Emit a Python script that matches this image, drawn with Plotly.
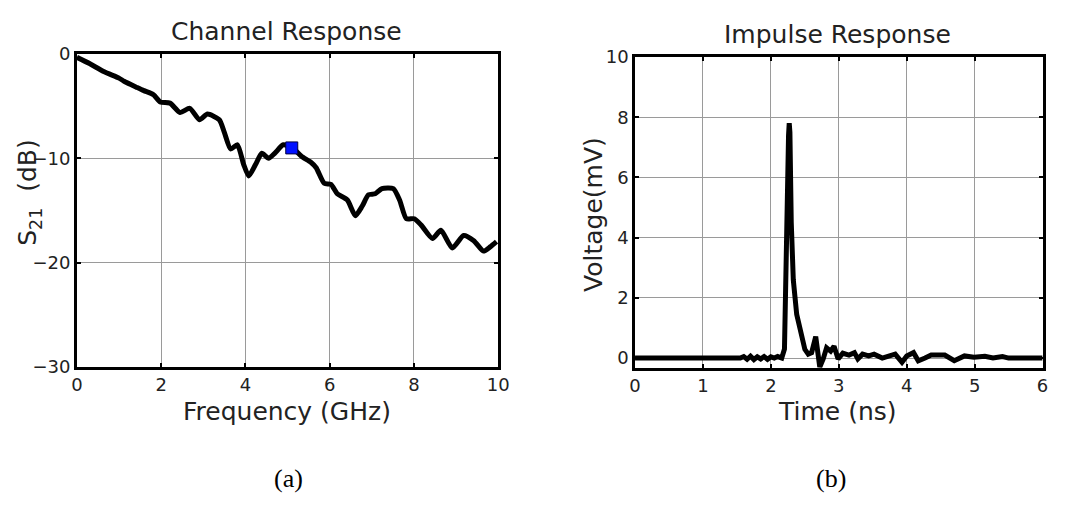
import plotly.graph_objects as go

# ---- data: Channel response ----
freq_ghz = [0.0, 0.3, 0.65, 1.0, 1.12, 1.43, 1.59, 1.82, 1.98, 2.21, 2.45, 2.68, 2.91, 3.1, 3.38,
            3.5, 3.65, 3.81, 3.96, 4.08, 4.24, 4.39, 4.55, 4.7, 4.9, 5.12, 5.33, 5.56, 5.68,
            5.87, 6.03, 6.18, 6.42, 6.61, 6.77, 6.92, 7.08, 7.24, 7.51, 7.66, 7.82, 8.01,
            8.17, 8.44, 8.64, 8.91, 9.18, 9.42, 9.65, 9.81, 9.96]
s21_db = [-0.3, -0.9, -1.7, -2.3, -2.6, -3.2, -3.5, -3.9, -4.6, -4.7, -5.6, -5.2, -6.3, -5.75, -6.3,
          -7.5, -9.1, -8.7, -10.6, -11.7, -10.6, -9.5, -10.0, -9.5, -8.7, -9.0, -9.8, -10.4, -10.9,
          -12.4, -12.5, -13.4, -14.0, -15.5, -14.6, -13.5, -13.4, -12.9, -12.9, -14.0, -15.8, -15.8,
          -16.4, -17.7, -16.9, -18.6, -17.4, -17.9, -18.9, -18.5, -18.0]
marker_freq = [5.1]
marker_s21 = [-9.0]

# ---- data: Impulse response ----
time_ns = [0.0, 1.55, 1.6, 1.65, 1.7, 1.75, 1.8, 1.85, 1.9, 1.95, 2.0, 2.05, 2.1, 2.16,
           2.2, 2.22, 2.24, 2.26, 2.27, 2.28, 2.3, 2.33, 2.38, 2.43, 2.5, 2.55, 2.6, 2.66,
           2.7, 2.72, 2.77, 2.82, 2.88, 2.93, 2.99, 3.06, 3.15, 3.23, 3.28, 3.35, 3.44,
           3.52, 3.64, 3.83, 3.93, 4.0, 4.1, 4.17, 4.27, 4.36, 4.56, 4.7, 4.85, 4.99,
           5.15, 5.27, 5.41, 5.5, 6.0]
voltage_mv = [0.0, 0.0, 0.05, -0.04, 0.06, -0.05, 0.04, -0.03, 0.05, -0.04, 0.04, 0.0, 0.05, 0.0,
              0.3, 2.0, 5.0, 7.4, 7.8, 7.5, 4.5, 2.6, 1.45, 0.92, 0.29, 0.13, 0.18, 0.71,
              0.18, -0.3, -0.03, 0.34, 0.23, 0.39, -0.03, 0.16, 0.1, 0.18, -0.03, 0.13, 0.07,
              0.13, 0.0, 0.13, -0.14, 0.07, 0.18, -0.09, 0.0, 0.1, 0.1, -0.09, 0.07, 0.03,
              0.06, 0.0, 0.05, 0.0, 0.0]

W, H = 1090, 510
def px(x):
    return x / W
def py(y):
    return 1 - y / H

fig = go.Figure()
fig.add_trace(go.Scatter(x=freq_ghz, y=s21_db, mode="lines",
                         line=dict(color="black", width=5, shape="spline", smoothing=0.6),
                         xaxis="x", yaxis="y", showlegend=False))
fig.add_trace(go.Scatter(x=marker_freq, y=marker_s21, mode="markers",
                         marker=dict(symbol="square", size=12, color="#0010ff",
                                     line=dict(color="#000040", width=1)),
                         xaxis="x", yaxis="y", showlegend=False))
fig.add_trace(go.Scatter(x=time_ns, y=voltage_mv, mode="lines",
                         line=dict(color="black", width=5),
                         xaxis="x2", yaxis="y2", showlegend=False))

axis_common = dict(showline=True, linecolor="black", linewidth=2.5, mirror="allticks",
                   ticks="inside", ticklen=4, tickwidth=1.5, tickcolor="black",
                   showgrid=True, gridcolor="#9a9a9a", gridwidth=1, zeroline=False,
                   tickfont=dict(family="DejaVu Sans", size=18, color="#222"))

fig.update_layout(
    width=W, height=H, margin=dict(l=0, r=0, t=0, b=0),
    paper_bgcolor="white", plot_bgcolor="white",
    xaxis=dict(domain=[px(72), px(500)], range=[0, 10], tickvals=[0, 2, 4, 6, 8, 10],
               anchor="y", **axis_common),
    yaxis=dict(domain=[py(371), py(45)], range=[-30, 0], tickvals=[-30, -20, -10, 0],
               anchor="x", **axis_common),
    xaxis2=dict(domain=[px(639), px(1053)], range=[0, 6], tickvals=[0, 1, 2, 3, 4, 5, 6],
                anchor="y2", **axis_common),
    yaxis2=dict(domain=[py(372), py(48)], range=[-0.32, 10], tickvals=[0, 2, 4, 6, 8, 10],
                anchor="x2", **axis_common),
)

txt = dict(family="DejaVu Sans", size=25, color="#222")
ann = [
    dict(text="Channel Response", x=px(285), y=py(21)),
    dict(text="Impulse Response", x=px(845), y=py(24)),
    dict(text="Frequency (GHz)", x=px(285), y=py(418)),
    dict(text="Time (ns)", x=px(845), y=py(418)),
    dict(text="S<sub>21</sub>  (dB)", x=px(24), y=py(189), textangle=-90),
    dict(text="Voltage(mV)", x=px(597), y=py(212), textangle=-90),
]
annotations = []
for a in ann:
    d = dict(xref="paper", yref="paper", showarrow=False, xanchor="center", yanchor="middle",
             font=txt)
    d.update(a)
    annotations.append(d)
annotations.append(dict(text="(a)", x=px(287), y=py(488), xref="paper", yref="paper",
                        showarrow=False, xanchor="center", yanchor="middle",
                        font=dict(family="Liberation Serif", size=26, color="black")))
annotations.append(dict(text="(b)", x=px(838), y=py(488), xref="paper", yref="paper",
                        showarrow=False, xanchor="center", yanchor="middle",
                        font=dict(family="Liberation Serif", size=26, color="black")))
fig.update_layout(annotations=annotations)

fig.write_html("out.html")
